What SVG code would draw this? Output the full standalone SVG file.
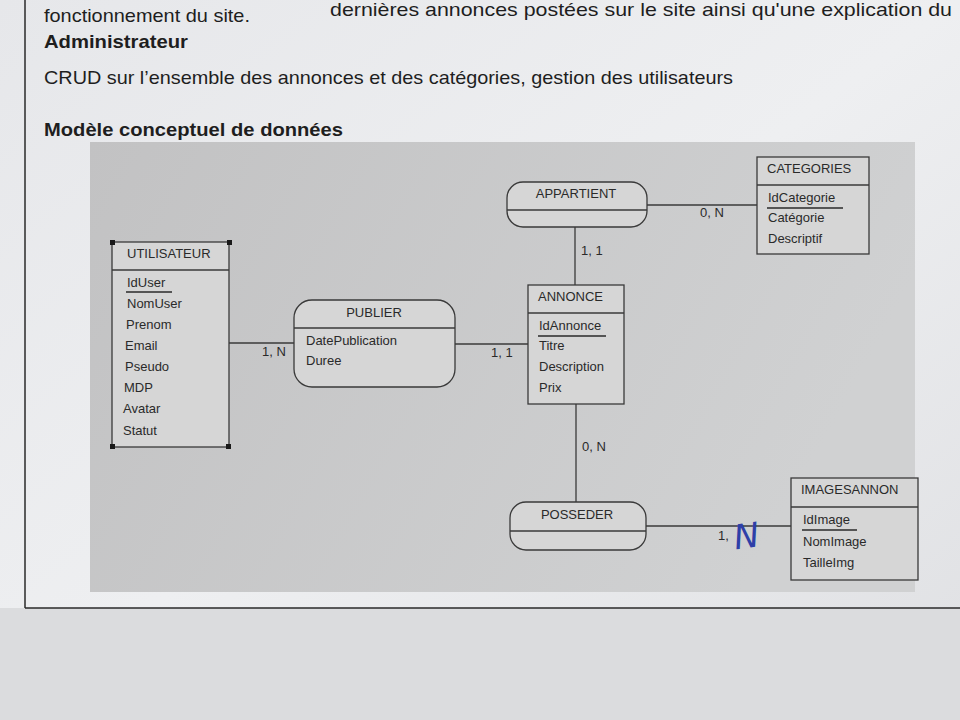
<svg xmlns="http://www.w3.org/2000/svg" width="960" height="720" viewBox="0 0 960 720">
<defs>
<linearGradient id="page" x1="0" y1="0" x2="1" y2="1">
<stop offset="0" stop-color="#e6e7ea"/>
<stop offset="0.5" stop-color="#eeeff1"/>
<stop offset="1" stop-color="#dfe0e3"/>
</linearGradient>
<linearGradient id="area" x1="0" y1="0" x2="1" y2="0.3">
<stop offset="0" stop-color="#c2c2c3"/>
<stop offset="1" stop-color="#d0d1d2"/>
</linearGradient>
<style>
.pg{font-family:"Liberation Sans",Arial,sans-serif;font-size:19px;fill:#1e1e1e}
.b{font-weight:bold}
.t{font-family:"Liberation Sans",Arial,sans-serif;font-size:13px;fill:#2a2a2a}
.box{fill:#d6d6d6;stroke:#3a3a3a;stroke-width:1.3}
.ln{stroke:#3a3a3a;stroke-width:1.3;fill:none}
.ul{stroke:#2a2a2a;stroke-width:1.3}
.h{fill:#1a1a1a}
</style>
</defs>
<rect width="960" height="720" fill="url(#page)"/>
<rect x="0" y="608" width="960" height="112" fill="#dbdcde"/>
<line x1="25" y1="0" x2="25" y2="608" stroke="#2a2a2a" stroke-width="1.5"/>
<line x1="25" y1="608" x2="960" y2="608" stroke="#2a2a2a" stroke-width="1.5"/>
<g id="page-text">
<text class="pg" x="330" y="16" font-size="15" textLength="622" lengthAdjust="spacingAndGlyphs">dernières annonces postées sur le site ainsi qu'une explication du</text>
<text class="pg" x="44" y="22" textLength="206" lengthAdjust="spacingAndGlyphs">fonctionnement du site.</text>
<text class="pg b" x="44" y="48" textLength="144" lengthAdjust="spacingAndGlyphs">Administrateur</text>
<text class="pg" x="44" y="84" textLength="689" lengthAdjust="spacingAndGlyphs">CRUD sur l’ensemble des annonces et des catégories, gestion des utilisateurs</text>
<text class="pg b" x="44" y="136" textLength="299" lengthAdjust="spacingAndGlyphs">Modèle conceptuel de données</text>
</g>
<rect x="90" y="142" width="825" height="450" fill="url(#area)"/>
<g id="connectors">
<line class="ln" x1="229" y1="343" x2="294" y2="343"/>
<line class="ln" x1="455" y1="344" x2="528" y2="344"/>
<line class="ln" x1="647" y1="205" x2="757" y2="205"/>
<line class="ln" x1="575" y1="227" x2="575" y2="285"/>
<line class="ln" x1="576" y1="404" x2="576" y2="502"/>
<line class="ln" x1="646" y1="526" x2="791" y2="526"/>
<text class="t" x="262" y="356">1, N</text>
<text class="t" x="491" y="357">1, 1</text>
<text class="t" x="700" y="217">0, N</text>
<text class="t" x="581" y="255">1, 1</text>
<text class="t" x="582" y="451">0, N</text>
<text class="t" x="718" y="540">1,</text>
<text x="733" y="548" font-family="DejaVu Sans, sans-serif" font-style="italic" font-size="34" fill="#2e3fa8" transform="rotate(-8 745 530)">N</text>
</g>
<g id="UTILISATEUR">
<rect class="box" x="112" y="242" width="117" height="205"/>
<line class="ln" x1="112" y1="270" x2="229" y2="270"/>
<text class="t" x="127" y="258">UTILISATEUR</text>
<text class="t" x="127" y="287">IdUser</text>
<line class="ul" x1="126" y1="292" x2="172" y2="292"/>
<text class="t" x="127" y="308">NomUser</text>
<text class="t" x="126" y="329">Prenom</text>
<text class="t" x="125" y="350">Email</text>
<text class="t" x="125" y="371">Pseudo</text>
<text class="t" x="124" y="392">MDP</text>
<text class="t" x="123" y="413">Avatar</text>
<text class="t" x="123" y="435">Statut</text>
<rect class="h" x="110" y="240" width="5" height="5"/>
<rect class="h" x="227" y="240" width="5" height="5"/>
<rect class="h" x="110" y="444" width="5" height="5"/>
<rect class="h" x="226" y="444" width="5" height="5"/>
</g>
<g id="PUBLIER">
<rect class="box" x="294" y="300" width="161" height="87" rx="18"/>
<line class="ln" x1="294" y1="328" x2="455" y2="328"/>
<text class="t" x="374" y="317" text-anchor="middle">PUBLIER</text>
<text class="t" x="306" y="345">DatePublication</text>
<text class="t" x="306" y="365">Duree</text>
</g>
<g id="ANNONCE">
<rect class="box" x="528" y="285" width="96" height="119"/>
<line class="ln" x1="528" y1="313" x2="624" y2="313"/>
<text class="t" x="538" y="301">ANNONCE</text>
<text class="t" x="539" y="330">IdAnnonce</text>
<line class="ul" x1="538" y1="336" x2="606" y2="336"/>
<text class="t" x="539" y="350">Titre</text>
<text class="t" x="539" y="371">Description</text>
<text class="t" x="539" y="392">Prix</text>
</g>
<g id="APPARTIENT">
<rect class="box" x="507" y="182" width="140" height="45" rx="16"/>
<line class="ln" x1="507" y1="210" x2="647" y2="210"/>
<text class="t" x="576" y="198" text-anchor="middle">APPARTIENT</text>
</g>
<g id="CATEGORIES">
<rect class="box" x="757" y="157" width="112" height="97"/>
<line class="ln" x1="757" y1="185" x2="869" y2="185"/>
<text class="t" x="767" y="173">CATEGORIES</text>
<text class="t" x="768" y="202">IdCategorie</text>
<line class="ul" x1="767" y1="208" x2="843" y2="208"/>
<text class="t" x="768" y="222">Catégorie</text>
<text class="t" x="768" y="243">Descriptif</text>
</g>
<g id="POSSEDER">
<rect class="box" x="510" y="502" width="136" height="48" rx="16"/>
<line class="ln" x1="510" y1="531" x2="646" y2="531"/>
<text class="t" x="577" y="519" text-anchor="middle">POSSEDER</text>
</g>
<g id="IMAGESANNON">
<rect class="box" x="791" y="478" width="127" height="102"/>
<line class="ln" x1="791" y1="507" x2="918" y2="507"/>
<text class="t" x="801" y="494">IMAGESANNON</text>
<text class="t" x="803" y="524">IdImage</text>
<line class="ul" x1="802" y1="530" x2="857" y2="530"/>
<text class="t" x="803" y="546">NomImage</text>
<text class="t" x="803" y="567">TailleImg</text>
</g>
</svg>
